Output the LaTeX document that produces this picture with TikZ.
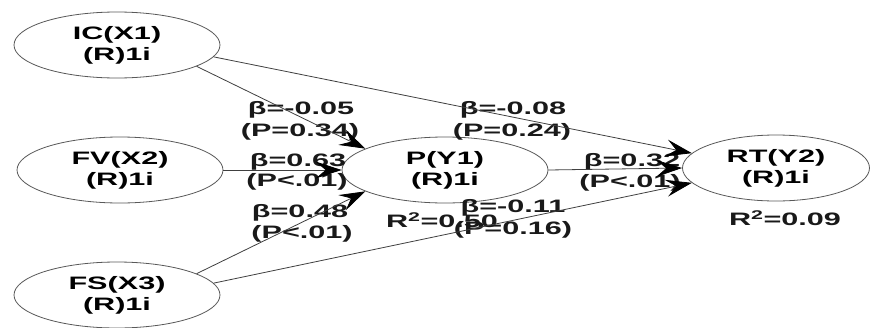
\documentclass[tikz,border=0pt]{standalone}
\usepackage{fontspec}
\setmainfont{Liberation Sans}[FakeStretch=1.7]
\usetikzlibrary{arrows.meta,shapes.geometric}
\begin{document}
\begin{tikzpicture}[x=1pt,y=-1pt,
  font=\fontsize{18}{21}\selectfont\bfseries,
  var/.style={ellipse,draw=black!65,line width=0.8pt,minimum width=206pt,minimum height=66pt,inner sep=0pt,align=center,fill=white},
  lab/.style={inner sep=0pt,text=black!90},
  path/.style={draw=black!75,line width=0.8pt,-{Stealth[length=26pt,width=17pt,inset=10pt,black]}}]
\useasboundingbox (0,0) rectangle (879,327);
\fill[white] (0,0) rectangle (879,327);
\node[var] (IC) at (117,45) {IC(X1)\\(R)1i};
\node[var] (FV) at (120,170) {FV(X2)\\(R)1i};
\node[var] (FS) at (117,295) {FS(X3)\\(R)1i};
\node[var] (P) at (445,170) {P(Y1)\\(R)1i};
\node[var,minimum width=187pt] (RT) at (776,168) {RT(Y2)\\(R)1i};
% labels
\node[lab] (b1) at (301,110) {β=-0.05};
\node[lab] (p1) at (300,132) {(P=0.34)};
\node[lab] (b2) at (298,162) {β=0.63};
\node[lab] (p2) at (297,182) {(P<.01)};
\node[lab] (b3) at (300,213) {β=0.48};
\node[lab] (p3) at (302,234) {(P<.01)};
\node[lab] (b4) at (513,110) {β=-0.08};
\node[lab] (p4) at (512,132) {(P=0.24)};
\node[lab] (b5) at (632,162) {β=0.32};
\node[lab] (p5) at (630,183) {(P<.01)};
\node[lab] (b6) at (513,208) {β=-0.11};
\node[lab] (p6) at (513,230) {(P=0.16)};
\node[lab] (r1) at (442,220) {R\textsuperscript{2}=0.50};
\node[lab] (r2) at (785,218) {R\textsuperscript{2}=0.09};
% connectors
\draw[path] (IC.-15) -- (P.165);
\draw[path] (FV.0) -- (P.180);
\draw[path] (FS.15) -- (P.195);
\draw[path] (IC.-7) -- (RT.170);
\draw[path] (P.0) -- (RT.180);
\draw[path] (FS.7) -- (RT.190);
\end{tikzpicture}
\end{document}
